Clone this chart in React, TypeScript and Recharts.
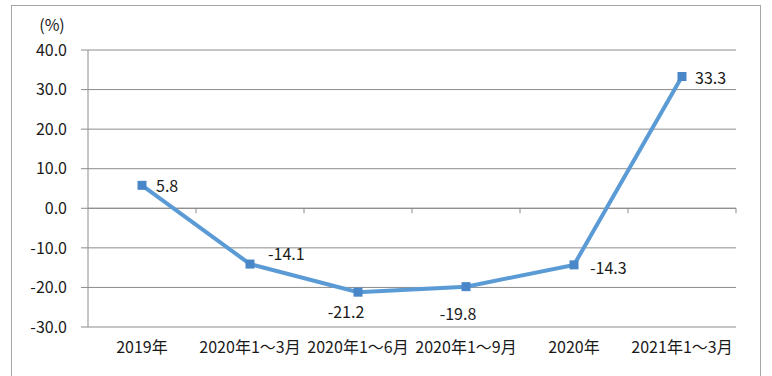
import {
  LineChart,
  Line,
  XAxis,
  YAxis,
  CartesianGrid,
  ReferenceLine,
  LabelList,
} from "recharts";

const CATEGORIES = [
  "2019年",
  "2020年1～3月",
  "2020年1～6月",
  "2020年1～9月",
  "2020年",
  "2021年1～3月",
];
const GROWTH = [5.8, -14.1, -21.2, -19.8, -14.3, 33.3];
const Y_TICKS = [-30, -20, -10, 0, 10, 20, 30, 40];

const data = CATEGORIES.map((name, i) => ({ name, value: GROWTH[i] }));

const GRID = "#8c8c8c";
const LINE = "#5b9bd5";
const MARKER = "#4a87c9";
const FONT = '"Noto Sans CJK SC", "Noto Sans", sans-serif';

// where each value label sits relative to its point
const LABEL_POS = [
  { dx: 14, dy: 0, anchor: "start" },
  { dx: 18, dy: -11, anchor: "start" },
  { dx: -12, dy: 19, anchor: "middle" },
  { dx: -8, dy: 26, anchor: "middle" },
  { dx: 16, dy: 2, anchor: "start" },
  { dx: 13, dy: 0, anchor: "start" },
];

function SquareDot(props: any) {
  const { cx, cy } = props;
  if (cx == null || cy == null) return null;
  return <rect x={cx - 4.5} y={cy - 4.5} width={9} height={9} fill={MARKER} />;
}

function ValueLabel(props: any) {
  const { x, y, value, index } = props;
  const p = LABEL_POS[index] || LABEL_POS[0];
  return (
    <text
      x={x + p.dx}
      y={y + p.dy}
      textAnchor={p.anchor}
      dominantBaseline="central"
      fontSize={16}
      fontFamily={FONT}
      fill="#1a1a1a"
    >
      {value.toFixed(1)}
    </text>
  );
}

// horizontal axis crossing at zero, with tick marks between categories
function ZeroAxis(props: any) {
  const { x1, y1, x2, y2 } = props;
  const step = (x2 - x1) / CATEGORIES.length;
  return (
    <g>
      <line x1={x1} y1={y1} x2={x2} y2={y2} stroke={GRID} strokeWidth={1} />
      {CATEGORIES.map((c, i) => (
        <line
          key={c}
          x1={x1 + step * (i + 1)}
          x2={x1 + step * (i + 1)}
          y1={y1}
          y2={y1 + 5}
          stroke={GRID}
          strokeWidth={1}
        />
      ))}
    </g>
  );
}

export default function App() {
  return (
    <div
      style={{
        position: "absolute",
        left: 11,
        top: 5,
        width: 748,
        height: 372,
        border: "1px solid #a6a6a6",
        background: "#fff",
      }}
    >
      <LineChart
        width={748}
        height={372}
        data={data}
        margin={{ top: 44, right: 24, bottom: 0, left: 0 }}
      >
        <CartesianGrid vertical={false} stroke={GRID} />
        <XAxis
          dataKey="name"
          height={51}
          padding={{ left: 54, right: 54 }}
          axisLine={false}
          tickLine={false}
          tickSize={0}
          tickMargin={15}
          interval={0}
          tick={{ fontSize: 16, fontFamily: FONT, fill: "#1a1a1a" }}
        />
        <YAxis
          width={76}
          domain={[-30, 40]}
          ticks={Y_TICKS}
          tickFormatter={(v: number) => v.toFixed(1)}
          axisLine={{ stroke: GRID }}
          tickLine={{ stroke: GRID }}
          tickSize={7}
          tickMargin={14}
          tick={{ fontSize: 16, fontFamily: FONT, fill: "#1a1a1a" }}
          label={{
            value: "(%)",
            position: "top",
            offset: 19,
            dx: 2,
            fontSize: 16,
            fontFamily: FONT,
            fill: "#1a1a1a",
          }}
        />
        <ReferenceLine y={0} shape={ZeroAxis} />
        <Line
          dataKey="value"
          stroke={LINE}
          strokeWidth={4}
          dot={<SquareDot />}
          activeDot={false}
          isAnimationActive={false}
        >
          <LabelList dataKey="value" content={<ValueLabel />} />
        </Line>
      </LineChart>
    </div>
  );
}
